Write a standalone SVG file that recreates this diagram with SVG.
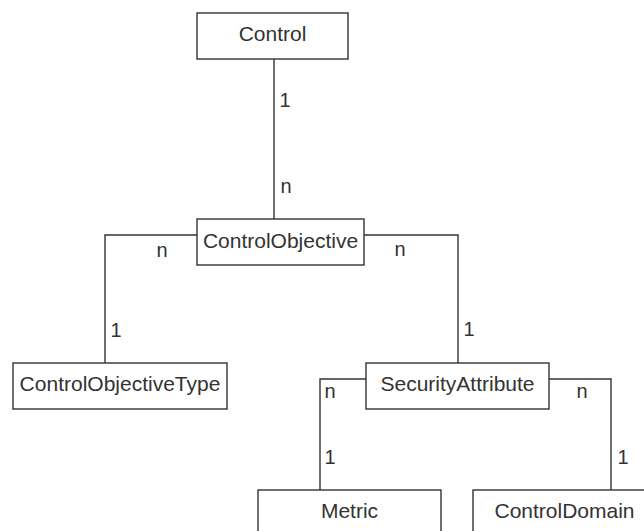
<svg xmlns="http://www.w3.org/2000/svg" width="644" height="531" viewBox="0 0 644 531">
<style>
.box{fill:#fff;stroke:#333;stroke-width:1.4}
.name{font-family:"Liberation Sans",Arial,sans-serif;font-size:21px;fill:#333;text-anchor:middle}
.lbl{font-family:"Liberation Sans",Arial,sans-serif;font-size:20px;fill:#333;text-anchor:middle}
.con{fill:none;stroke:#333;stroke-width:1.4}
</style>
<rect width="644" height="531" fill="#fff"/>
<g id="connectors">
<polyline class="con" points="274,59 274,219"/>
<polyline class="con" points="197,235 105,235 105,363"/>
<polyline class="con" points="364,235 458,235 458,363"/>
<polyline class="con" points="366,379 320,379 320,490"/>
<polyline class="con" points="549,379 611,379 611,490"/>
<text class="lbl" x="285" y="107">1</text>
<text class="lbl" x="286" y="193">n</text>
<text class="lbl" x="162" y="257">n</text>
<text class="lbl" x="116" y="337">1</text>
<text class="lbl" x="400" y="256">n</text>
<text class="lbl" x="469" y="336">1</text>
<text class="lbl" x="330" y="398">n</text>
<text class="lbl" x="330" y="464">1</text>
<text class="lbl" x="582" y="398">n</text>
<text class="lbl" x="623" y="464">1</text>
</g>
<g id="Control">
<rect class="box" x="197" y="13" width="151" height="46"/>
<text class="name" x="272.5" y="41">Control</text>
</g>
<g id="ControlObjective">
<rect class="box" x="197" y="219" width="167" height="46"/>
<text class="name" x="280.5" y="248">ControlObjective</text>
</g>
<g id="ControlObjectiveType">
<rect class="box" x="13" y="363" width="214" height="46"/>
<text class="name" x="120" y="391">ControlObjectiveType</text>
</g>
<g id="SecurityAttribute">
<rect class="box" x="366" y="363" width="183" height="46"/>
<text class="name" x="457.5" y="391">SecurityAttribute</text>
</g>
<g id="Metric">
<rect class="box" x="258" y="490" width="183" height="60"/>
<text class="name" x="349.5" y="518">Metric</text>
</g>
<g id="ControlDomain">
<rect class="box" x="473" y="490" width="183" height="60"/>
<text class="name" x="564.5" y="518">ControlDomain</text>
</g>
</svg>
